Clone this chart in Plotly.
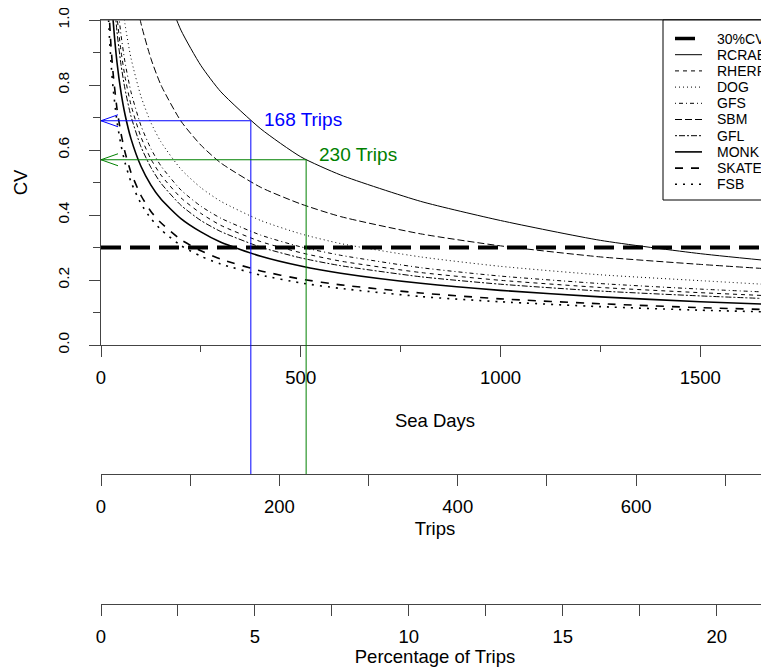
import plotly.graph_objects as go

# ---------------- data ----------------
sea_days = [15, 20, 25, 30, 40, 50, 60, 75, 100, 125, 150, 200, 250, 300,
            400, 500, 600, 800, 1000, 1250, 1500, 1700]
N = None
cv_rcrab = [N, N, N, N, N, N, N, N, N, N, 1.127, 0.969, 0.860, 0.779,
            0.665, 0.579, 0.523, 0.442, 0.383, 0.322, 0.281, 0.256]
cv_rherr = [N, N, N, 1.168, 1.012, 0.905, 0.826, 0.739, 0.640, 0.572, 0.523, 0.453, 0.405, 0.368,
            0.318, 0.284, 0.258, 0.223, 0.199, 0.177, 0.161, 0.150]
cv_dog = [N, N, N, N, 1.210, 1.082, 0.988, 0.883, 0.765, 0.684, 0.625, 0.541, 0.484, 0.442,
          0.383, 0.342, 0.312, 0.271, 0.242, 0.216, 0.198, 0.184]
cv_gfs = [N, N, N, 1.232, 1.067, 0.955, 0.871, 0.779, 0.675, 0.604, 0.551, 0.477, 0.427, 0.390,
          0.338, 0.302, 0.276, 0.238, 0.212, 0.189, 0.172, 0.161]
cv_sbm = [N, N, N, N, N, N, N, 1.155, 0.990, 0.881, 0.800, 0.689, 0.615, 0.560,
          0.485, 0.434, 0.395, 0.342, 0.305, 0.271, 0.248, 0.232]
cv_gfl = [N, N, 1.220, 1.114, 0.964, 0.863, 0.788, 0.704, 0.610, 0.546, 0.498, 0.430, 0.383, 0.349,
          0.301, 0.268, 0.244, 0.210, 0.187, 0.166, 0.151, 0.141]
cv_monk = [N, 1.230, 1.100, 1.004, 0.870, 0.778, 0.710, 0.635, 0.550, 0.492, 0.449, 0.389, 0.348, 0.316,
           0.273, 0.243, 0.221, 0.190, 0.168, 0.148, 0.133, 0.124]
cv_skate = [1.188, 1.029, 0.920, 0.840, 0.727, 0.651, 0.594, 0.531, 0.460, 0.411, 0.376, 0.324, 0.290, 0.264,
            0.228, 0.203, 0.185, 0.160, 0.142, 0.127, 0.115, 0.108]
cv_fsb = [1.123, 0.973, 0.870, 0.794, 0.688, 0.615, 0.562, 0.502, 0.435, 0.389, 0.355, 0.306, 0.273, 0.249,
          0.215, 0.191, 0.174, 0.149, 0.133, 0.118, 0.107, 0.101]

species = ["RCRAB", "RHERR", "DOG", "GFS", "SBM", "GFL", "MONK", "SKATE", "FSB"]
species_cv = [cv_rcrab, cv_rherr, cv_dog, cv_gfs, cv_sbm, cv_gfl, cv_monk, cv_skate, cv_fsb]

target_cv_label = "30%CV"
target_cv = 0.3

mark_trips = [168, 230]
mark_cv = [0.69, 0.57]
mark_text = ["168 Trips", "230 Trips"]

days_ticks = [0, 500, 1000, 1500]
days_minor = [250, 750, 1250]
trips_ticks = [0, 100, 200, 300, 400, 500, 600, 700]
trips_labels = ["0", "", "200", "", "400", "", "600", ""]
pct_ticks = [0, 2.5, 5, 7.5, 10, 12.5, 15, 17.5, 20]
pct_labels = ["0", "", "5", "", "10", "", "15", "", "20"]
cv_ticks = [0.0, 0.2, 0.4, 0.6, 0.8, 1.0]
cv_minor = [0.1, 0.3, 0.5, 0.7, 0.9]

# ---------------- styles / layout constants ----------------
styles = {
    "RCRAB": ("solid", 1),
    "RHERR": ("4px,4px", 1),
    "DOG": ("1px,3px", 1),
    "GFS": ("1px,3px,4px,3px", 1),
    "SBM": ("7px,3px", 1),
    "GFL": ("2px,2px,6px,2px", 1),
    "MONK": ("solid", 1.6),
    "SKATE": ("8px,8px", 1.6),
    "FSB": ("2px,6px", 1.6),
}
cv_style = ("20px,9px", 4)
mark_colors = ["#0000FF", "#008000"]
mark_yshift = [1, 5]

OFF = 8                      # page body margin of the browser
W, H = 769 - OFF, 667 - OFF
ML, MR, MT = 101 - OFF, 0, 20 - OFF
MB = H - (604 - OFF)
plot_h = H - MT - MB
plot_w = W - ML - MR
main_bottom_px = 345 - OFF
trips_axis_px = 474 - OFF
dom0 = (H - MB - main_bottom_px) / plot_h
trips_pos = (H - MB - trips_axis_px) / plot_h
main_h = main_bottom_px - MT

DAYS_MAX = 1672
TRIPS_MAX = 749
PCT_MAX = 21.7

FONT = "Liberation Sans, Arial, sans-serif"
AX = "#444444"
fs = 18.5
fs_y = 15.5

fig = go.Figure()

# 30% CV reference line
fig.add_trace(go.Scatter(x=[0, DAYS_MAX], y=[target_cv, target_cv], mode="lines",
                         line=dict(color="black", width=cv_style[1], dash=cv_style[0]),
                         name=target_cv_label, hoverinfo="skip"))

for name, cv in zip(species, species_cv):
    d, w = styles[name]
    fig.add_trace(go.Scatter(x=sea_days, y=cv, mode="lines", name=name,
                             line=dict(color="black", width=w, dash=d, shape="spline", smoothing=0.6)))

# invisible traces so the trips / percentage axes exist
fig.add_trace(go.Scatter(x=mark_trips, y=mark_cv, xaxis="x2", yaxis="y", mode="markers",
                         marker=dict(opacity=0), hoverinfo="skip", showlegend=False))
fig.add_trace(go.Scatter(x=[0, PCT_MAX], y=[None, None], xaxis="x3", yaxis="y", mode="markers",
                         marker=dict(opacity=0), hoverinfo="skip", showlegend=False))

shapes = []
annotations = []

# top edge of the R plot box
shapes.append(dict(type="line", xref="x domain", yref="y domain", x0=0, x1=1, y0=1, y1=1,
                   line=dict(color=AX, width=1)))

head_len = 17 * TRIPS_MAX / plot_w
head_half = 6 / main_h
for t, c, txt, col, ys in zip(mark_trips, mark_cv, mark_text, mark_colors, mark_yshift):
    shapes.append(dict(type="line", xref="x2", yref="y", x0=0, x1=t, y0=c, y1=c,
                       line=dict(color=col, width=1)))
    shapes.append(dict(type="line", xref="x2", yref="y", x0=t, x1=t, y0=0, y1=c,
                       line=dict(color=col, width=1)))
    shapes.append(dict(type="line", xref="x2", yref="paper", x0=t, x1=t, y0=trips_pos, y1=dom0,
                       line=dict(color=col, width=1)))
    shapes.append(dict(type="path", xref="x2", yref="y",
                       path=f"M {head_len},{c + head_half} L 0,{c} L {head_len},{c - head_half}",
                       line=dict(color=col, width=1)))
    annotations.append(dict(xref="x2", yref="y", x=t, y=c, text=txt, showarrow=False,
                            xanchor="left", yanchor="middle", xshift=11, yshift=ys,
                            font=dict(family=FONT, size=19, color=col)))

# manual legend (R style), positions given in reference screen pixels
def xd(px):
    return (px - 101) / plot_w

def yd(py):
    return (345 - py) / main_h

shapes.append(dict(type="rect", xref="x domain", yref="y domain", x0=xd(663), x1=1.05,
                   y0=yd(200), y1=1.0, line=dict(color="black", width=1), fillcolor="white",
                   layer="above"))
legend_items = [(target_cv_label, cv_style)] + [(n, styles[n]) for n in species]
for i, (lab, (dsh, wd)) in enumerate(legend_items):
    py = 38.5 + 16.2 * i
    lw = 3.5 if lab == target_cv_label else wd
    shapes.append(dict(type="line", xref="x domain", yref="y domain", x0=xd(675), x1=xd(702),
                       y0=yd(py), y1=yd(py), line=dict(color="black", width=lw, dash=dsh)))
    annotations.append(dict(xref="x domain", yref="y domain", x=xd(715), y=yd(py), text=lab,
                            showarrow=False, xanchor="left", yanchor="middle",
                            font=dict(family=FONT, size=14, color="black")))

axis_common = dict(showgrid=False, zeroline=False, showline=True, linecolor=AX, linewidth=1,
                   ticks="outside", tickcolor=AX, tickwidth=1, ticklen=11,
                   tickfont=dict(family=FONT, size=fs, color="black"), automargin=False,
                   ticklabeloverflow="allow")

fig.update_layout(
    template="none",
    width=W, height=H,
    margin=dict(l=ML, r=MR, t=MT, b=MB, pad=0),
    paper_bgcolor="white", plot_bgcolor="white",
    showlegend=False,
    font=dict(family=FONT, color="black"),
    xaxis=dict(**axis_common, range=[0, DAYS_MAX], tickvals=days_ticks, mirror=True,
               minor=dict(tickvals=days_minor, ticks="outside", ticklen=6, tickcolor=AX, tickwidth=1),
               ticklabelstandoff=5, anchor="y",
               title=dict(text="Sea Days", font=dict(family=FONT, size=fs), standoff=26)),
    xaxis2=dict(**axis_common, range=[0, TRIPS_MAX], tickvals=trips_ticks, ticktext=trips_labels,
                overlaying="x", anchor="free", position=trips_pos, side="bottom",
                ticklabelstandoff=5,
                title=dict(text="Trips", font=dict(family=FONT, size=fs), standoff=5)),
    xaxis3=dict(**axis_common, range=[0, PCT_MAX], tickvals=pct_ticks, ticktext=pct_labels,
                overlaying="x", anchor="free", position=0, side="bottom",
                ticklabelstandoff=5,
                title=dict(text="Percentage of Trips", font=dict(family=FONT, size=fs), standoff=7)),
    yaxis=dict(**{**axis_common, "tickfont": dict(family=FONT, size=fs_y, color="black")},
               range=[0, 1], domain=[dom0, 1], tickvals=cv_ticks, tickformat=".1f",
               minor=dict(tickvals=cv_minor, ticks="outside", ticklen=7, tickcolor=AX, tickwidth=1),
               tickangle=-90, ticklabelstandoff=14, mirror=True, anchor="x",
               title=dict(text="CV", font=dict(family=FONT, size=fs), standoff=22)),
    shapes=shapes,
    annotations=annotations,
)

fig.write_html("out.html")
